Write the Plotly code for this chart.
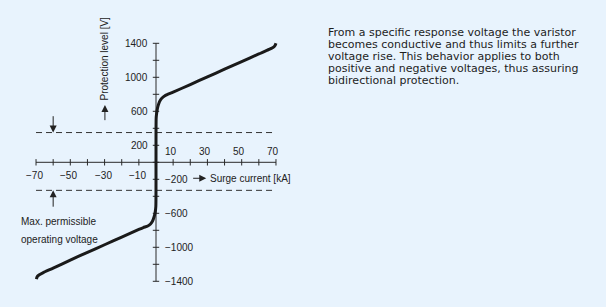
import plotly.graph_objects as go

# ---------------- data ----------------
# positive branch of the varistor characteristic (surge current kA, protection level V)
pos_current = [0, 0.1, 0.4, 0.9, 1.6, 2.5, 3.7, 5.0, 6.5, 10, 20, 30, 40, 50, 60, 66, 68, 69, 69.6, 70]
pos_voltage = [0, 520, 580, 640, 690, 730, 760, 780, 795, 825, 915, 1005, 1095, 1185, 1275, 1328, 1348, 1363, 1380, 1400]
# negative branch
neg_current = [0, -0.1, -0.5, -1.1, -2.0, -3.2, -4.8, -7.4, -10, -20, -30, -40, -50, -60, -66, -68.3, -69.3, -69.8]
neg_voltage = [0, -520, -590, -640, -690, -725, -750, -768, -790, -880, -970, -1060, -1150, -1245, -1300, -1325, -1345, -1375]

# max. permissible operating voltage levels (dashed lines)
op_voltage_levels = [350, -330]
op_current_span = [-70, 70]

# axes ticks and labels
x_ticks = list(range(-70, 71, 10))
x_labels_below = [-70, -50, -30, -10]
x_labels_above = [10, 30, 50, 70]
y_ticks = list(range(-1400, 1401, 200))
y_labels_left = [1400, 1000, 600, 200]
y_labels_right = [-200, -600, -1000, -1400]

x_title = "Surge current [kA]"
y_title = "Protection level [V]"
note_lines = ["Max. permissible", "operating voltage"]
desc_lines = [
    "From a specific response voltage the varistor",
    "becomes conductive and thus limits a further",
    "voltage rise. This behavior applies to both",
    "positive and negative voltages, thus assuring",
    "bidirectional protection.",
]

# ---------------- geometry / style ----------------
W, H = 606, 307
X0_PX, PX_PER_KA = 156.0, 1.714
Y0_PX, PX_PER_V = 162.3, 0.085
BG = "#E8F3FD"
INK = "#1a1a1a"
AXC = "#2a2a2a"
FONT = "Liberation Sans, Arial, sans-serif"
TXTFONT = "DejaVu Sans, Verdana, sans-serif"

x_range = [(0 - X0_PX) / PX_PER_KA, (W - X0_PX) / PX_PER_KA]
y_range = [(Y0_PX - H) / PX_PER_V, Y0_PX / PX_PER_V]

def minus(v):
    return str(v).replace("-", "\u2212")

fig = go.Figure()

# axis lines
fig.add_trace(go.Scatter(x=[x_ticks[0], x_ticks[-1], None, 0, 0],
                         y=[0, 0, None, y_ticks[0], y_ticks[-1]],
                         mode="lines", line=dict(color=AXC, width=1),
                         hoverinfo="skip", showlegend=False))
# tick marks (crossing the axis, 3 px each side)
tl_v = 3.2 / PX_PER_V
tl_i = 3.2 / PX_PER_KA
tx, ty = [], []
for t in x_ticks:
    tx += [t, t, None]
    ty += [-tl_v, tl_v, None]
for t in y_ticks:
    tx += [-tl_i, tl_i, None]
    ty += [t, t, None]
fig.add_trace(go.Scatter(x=tx, y=ty, mode="lines", line=dict(color=AXC, width=1),
                         hoverinfo="skip", showlegend=False))

# dashed operating voltage lines
for lv in op_voltage_levels:
    fig.add_trace(go.Scatter(x=op_current_span, y=[lv, lv], mode="lines",
                             line=dict(color="#333333", width=1, dash="6px,4px"),
                             hoverinfo="skip", showlegend=False))

# characteristic curve
fig.add_trace(go.Scatter(x=neg_current[::-1] + pos_current[1:],
                         y=neg_voltage[::-1] + pos_voltage[1:],
                         mode="lines", line=dict(color=INK, width=3, shape="spline", smoothing=0.6),
                         hoverinfo="skip", showlegend=False))

ann = []
lab = dict(size=10, color="#222222", family=FONT)
for v in x_labels_below:
    ann.append(dict(x=v, y=0, text=minus(v), showarrow=False, xanchor="center", yanchor="middle",
                    yshift=-13.4, xshift=-1.5, font=lab))
for v in x_labels_above:
    ann.append(dict(x=v, y=0, text=minus(v), showarrow=False, xanchor="center", yanchor="middle",
                    yshift=10.6, xshift=-2.5, font=lab))
for v in y_labels_left:
    ann.append(dict(x=0, y=v, text=minus(v), showarrow=False, xanchor="right", yanchor="middle",
                    xshift=-6, font=lab))
for v in y_labels_right:
    ann.append(dict(x=0, y=v, text=minus(v), showarrow=False, xanchor="left", yanchor="middle",
                    xshift=7, font=lab))

# axis titles
ann.append(dict(x=30.5, y=-188, text=x_title, showarrow=False, xanchor="left", yanchor="middle",
                font=lab))
ann.append(dict(x=-29.8, y=1220, text=y_title, showarrow=False, textangle=-90,
                xanchor="center", yanchor="middle", font=lab))

# arrows
arrow = dict(showarrow=True, text="", arrowhead=2, arrowsize=1.4, arrowwidth=1,
             arrowcolor="#222222", axref="x", ayref="y", standoff=0, startstandoff=0)
ann.append(dict(x=-60, y=op_voltage_levels[0], ax=-60, ay=560, **arrow))
ann.append(dict(x=-60, y=op_voltage_levels[1], ax=-60, ay=-540, **arrow))
ann.append(dict(x=-29.8, y=674, ax=-29.8, ay=478, **arrow))
ann.append(dict(x=29.3, y=-188, ax=20.8, ay=-188, **arrow))

# note text
for i, line in enumerate(note_lines):
    ann.append(dict(x=19 / W, y=1 - (221.7 + 17.3 * i) / H, xref="paper", yref="paper",
                    text=line, showarrow=False, xanchor="left", yanchor="middle", font=lab))

# description text
for i, line in enumerate(desc_lines):
    ann.append(dict(x=327 / W, y=1 - (32.6 + 11.9 * i) / H, xref="paper", yref="paper",
                    text=line, showarrow=False, xanchor="left", yanchor="middle",
                    borderpad=0,
                    font=dict(size=11, color="#1e1e1e", family=TXTFONT)))

fig.update_layout(
    width=W, height=H, margin=dict(l=0, r=0, t=0, b=0),
    paper_bgcolor=BG, plot_bgcolor=BG,
    xaxis=dict(range=x_range, visible=False, fixedrange=True),
    yaxis=dict(range=y_range, visible=False, fixedrange=True),
    annotations=ann, showlegend=False,
)
fig.write_html("out.html")
